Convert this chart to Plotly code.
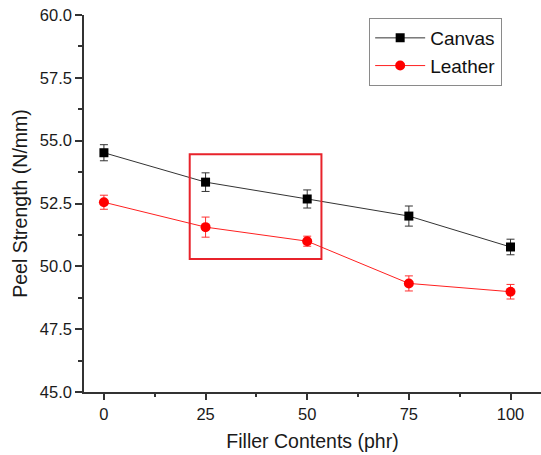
import plotly.graph_objects as go

# ---- data ----
filler = [0, 25, 50, 75, 100]
canvas = [54.52, 53.35, 52.68, 52.0, 50.77]
canvas_err = [0.32, 0.37, 0.36, 0.4, 0.31]
leather = [52.55, 51.56, 51.0, 49.32, 48.99]
leather_err = [0.28, 0.4, 0.2, 0.3, 0.29]
highlight_x = [21.1, 53.5]
highlight_y = [50.29, 54.46]

font_family = "Liberation Sans, Arial, sans-serif"

fig = go.Figure()
fig.add_trace(go.Scatter(
    x=filler, y=canvas, name="Canvas", mode="lines+markers",
    line=dict(color="#333333", width=1),
    marker=dict(symbol="square", size=9, color="black"),
    error_y=dict(type="data", array=canvas_err, visible=True,
                 color="#333333", thickness=1, width=4),
))
fig.add_trace(go.Scatter(
    x=filler, y=leather, name="Leather", mode="lines+markers",
    line=dict(color="#ff2020", width=1),
    marker=dict(symbol="circle", size=10, color="#ff0000"),
    error_y=dict(type="data", array=leather_err, visible=True,
                 color="#ff3030", thickness=1, width=4),
))

fig.add_shape(type="rect", xref="x", yref="y",
              x0=highlight_x[0], x1=highlight_x[1],
              y0=highlight_y[0], y1=highlight_y[1],
              line=dict(color="#e8232b", width=2))

fig.update_layout(
    width=541, height=455,
    margin=dict(l=84, r=0, t=15, b=63),
    paper_bgcolor="white", plot_bgcolor="white",
    font=dict(family=font_family, color="#1a1a1a", size=16.5),
    showlegend=True,
    legend=dict(
        x=0.624, y=0.992, xanchor="left", yanchor="top",
        bordercolor="#8a8a8a", borderwidth=1,
        font=dict(size=19, family=font_family, color="#111111"),
        bgcolor="white", tracegroupgap=0, itemwidth=50,
    ),
)

fig.update_xaxes(
    range=[-4.9, 107.5],
    tickvals=filler, ticktext=[str(v) for v in filler],
    ticks="outside", ticklen=6, tickwidth=1.5, tickcolor="#333333",
    minor=dict(ticks="outside", ticklen=3, tickwidth=1.5, tickcolor="#333333",
               tick0=12.5, dtick=25),
    showline=True, linewidth=1.5, linecolor="#333333",
    showgrid=False, zeroline=False,
    tickfont=dict(size=16.5),
    title=dict(text="Filler Contents (phr)", font=dict(size=19.5), standoff=13),
)
fig.update_yaxes(
    range=[45, 60],
    tick0=45, dtick=2.5, tickformat=".1f",
    ticks="outside", ticklen=7, tickwidth=1.5, tickcolor="#333333",
    minor=dict(ticks="outside", ticklen=4, tickwidth=1.5, tickcolor="#333333",
               tick0=45, dtick=1.25),
    showline=True, linewidth=1.5, linecolor="#333333",
    showgrid=False, zeroline=False,
    tickfont=dict(size=16.5),
    title=dict(text="Peel Strength (N/mm)", font=dict(size=19.5), standoff=7),
)

fig.write_html("out.html")
